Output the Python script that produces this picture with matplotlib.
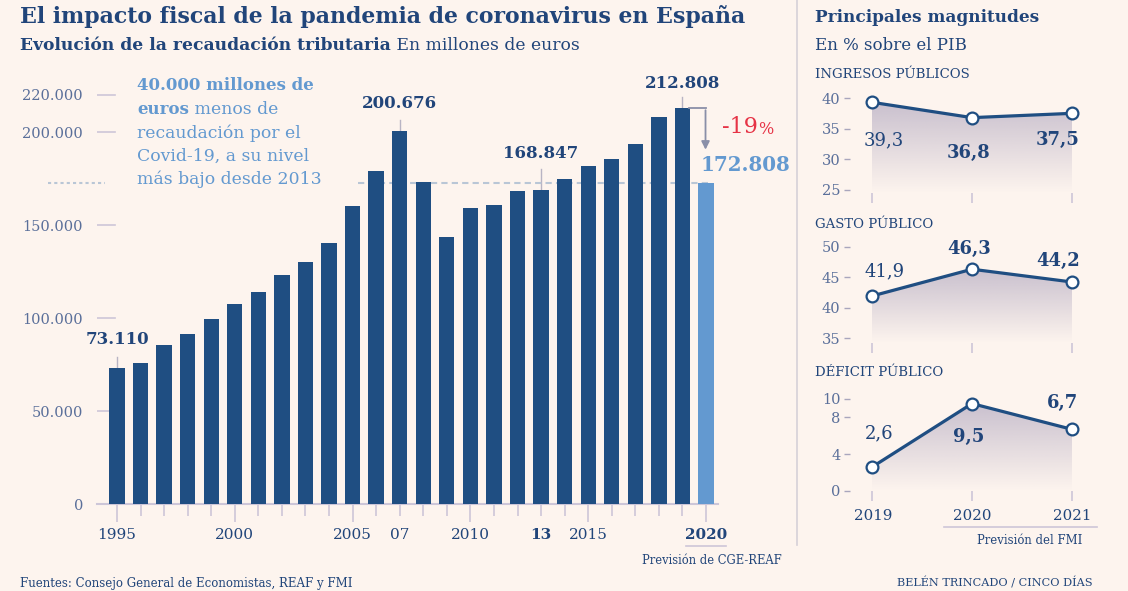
import numpy as np
import matplotlib
matplotlib.use('Agg')
import matplotlib.pyplot as plt
from matplotlib.transforms import blended_transform_factory
from matplotlib.patches import Polygon

# datos: recaudacion tributaria (millones de euros)
years = list(range(1995, 2021))
recaudacion = [73110, 75600, 85300, 91200, 99600, 107400, 114200, 123000, 129900, 140500,
               160200, 178900, 200676, 173100, 143500, 159000, 161000, 168100, 168847, 174700,
               181500, 185700, 193400, 208200, 212808, 172808]
y_ticks = [0, 50000, 100000, 150000, 200000, 220000]
y_labels = ['0', '50.000', '100.000', '150.000', '200.000', '220.000']

# principales magnitudes (% sobre el PIB)
anios_fmi = [2019, 2020, 2021]
ingresos = [39.3, 36.8, 37.5]
gasto = [41.9, 46.3, 44.2]
deficit = [2.6, 9.5, 6.7]
ingresos_lbl = ['39,3', '36,8', '37,5']
gasto_lbl = ['41,9', '46,3', '44,2']
deficit_lbl = ['2,6', '9,5', '6,7']

BG = '#fdf4ee'
NAVY = '#1f4e82'
TXT = '#21457a'
TICK = '#5a6f9a'
LIGHT = '#6399d0'
GRIDC = '#cdc6d8'
RED = '#e63346'
SERIF = 'DejaVu Serif'

W, H = 1128, 591
fig = plt.figure(figsize=(11.28, 5.91), dpi=100)
fig.patch.set_facecolor(BG)
plt.rcParams['font.family'] = SERIF


def box(x0, y0, x1, y1):
    return [x0 / W, 1 - y1 / H, (x1 - x0) / W, (y1 - y0) / H]


def fy(y):
    return 1 - y / H


def rich(x, y, parts, va='center'):
    # texto con trozos en negrita y normal en la misma linea
    renderer = fig.canvas.get_renderer()
    for s, weight, color, size in parts:
        t = fig.text(x / W, fy(y), s, fontsize=size, fontweight=weight, color=color,
                     va=va, ha='left', family=SERIF)
        bb = t.get_window_extent(renderer)
        x += bb.width
    return x


# titulos
fig.text(20 / W, fy(17), 'El impacto fiscal de la pandemia de coronavirus en España',
         fontsize=15.8, fontweight='bold', color=TXT, va='center')
rich(20, 46, [('Evolución de la recaudación tributaria', 'bold', TXT, 12.3),
              (' En millones de euros', 'normal', TXT, 12.3)])
fig.text(815 / W, fy(17), 'Principales magnitudes', fontsize=12.2, fontweight='bold',
         color=TXT, va='center')
fig.text(815 / W, fy(45), 'En % sobre el PIB', fontsize=12, color=TXT, va='center')

# separador vertical
fig.add_artist(plt.Line2D([797 / W, 797 / W], [fy(0), fy(545)], color='#d6d0d8', lw=1.2))

# ---------------- grafico de barras ----------------
ax = fig.add_axes(box(97, 60, 718, 504))
ax.set_facecolor('none')
ax.set_xlim(1994.151, 2020.51)
ax.set_ylim(0, 238710)
colors = [NAVY] * (len(years) - 1) + [LIGHT]
ax.bar(years, recaudacion, width=0.65, color=colors, zorder=3)

for s in ['top', 'right', 'left']:
    ax.spines[s].set_visible(False)
ax.spines['bottom'].set_color(GRIDC)
ax.spines['bottom'].set_linewidth(1.5)
ax.set_yticks(y_ticks)
ax.set_yticklabels(y_labels, fontsize=10.5, color=TICK)
ax.tick_params(axis='y', length=0, pad=10)
for v in y_ticks[1:]:
    ax.plot([1994.151, 1994.93], [v, v], color=GRIDC, lw=1.2, zorder=1)

ax.set_xticks([1995, 2000, 2005, 2010, 2015, 2020])
ax.set_xticks(years, minor=True)
ax.set_xticklabels([])
ax.tick_params(axis='x', which='major', length=13, width=1.2, color=GRIDC)
ax.tick_params(axis='x', which='minor', length=8.5, width=1.2, color=GRIDC)

trans = blended_transform_factory(ax.transData, fig.transFigure)
xlab = [(1995, '1995', 'normal'), (2000, '2000', 'normal'), (2005, '2005', 'normal'),
        (2007, '07', 'normal'), (2010, '2010', 'normal'), (2013, '13', 'bold'),
        (2015, '2015', 'normal'), (2020, '2020', 'bold')]
for xv, s, w in xlab:
    ax.text(xv, fy(535), s, transform=trans, ha='center', va='center', fontsize=11,
            fontweight=w, color=TXT)
ax.plot([2019.15, 2020.85], [fy(546), fy(546)], transform=trans, color=GRIDC, lw=1.2,
        clip_on=False)
ax.text(2020.25, fy(560), 'Previsión de CGE-REAF', transform=trans, ha='center', va='center',
        fontsize=8.3, color=TXT)

# linea de referencia 172.808
ref = recaudacion[-1]
ax.plot([1992.07, 1994.5], [ref, ref], color='#b9c6d6', lw=1.5, ls=(0, (1.5, 1.5)),
        zorder=1, clip_on=False)
ax.plot([2005.25, 2020.1], [ref, ref], color='#b9c6d6', lw=1.5, ls=(0, (3, 2)), zorder=2)

# etiquetas de valores
def valor(year, val, ytxt, ylead0, ylead1):
    ax.text(year, fy(ytxt), val, transform=trans, ha='center', va='center', fontsize=12,
            fontweight='bold', color=TXT)
    ax.plot([year, year], [fy(ylead0), fy(ylead1)], transform=trans, color='#b8b4c4',
            lw=1, zorder=1)

valor(1995, '73.110', 339, 357, 368)
valor(2007, '200.676', 104, 120, 131)
valor(2013, '168.847', 153, 169, 190)
valor(2019, '212.808', 83, 97, 108)

# flecha de caida
ax.plot([2019.3, 2019.98], [recaudacion[-2], recaudacion[-2]], color='#8a8fa8', lw=1.3, zorder=4)
ax.annotate('', xy=(2019.98, 189000), xytext=(2019.98, recaudacion[-2] + 400),
            arrowprops=dict(arrowstyle='-|>', color='#8a8fa8', lw=1.3, mutation_scale=12))
rx = rich(722, 127, [('-19', 'normal', RED, 16)])
fig.text(rx / W, fy(129), '%', fontsize=11.5, color=RED, va='center')
fig.text(745 / W, fy(165), '172.808', fontsize=14.3, fontweight='bold', color=LIGHT,
         va='center', ha='center')

# texto explicativo
ann = [
    [('40.000 millones de', 'bold', LIGHT, 12)],
    [('euros', 'bold', LIGHT, 12), (' menos de', 'normal', LIGHT, 12.4)],
    [('recaudación por el', 'normal', LIGHT, 12.4)],
    [('Covid-19, a su nivel', 'normal', LIGHT, 12.4)],
    [('más bajo desde 2013', 'normal', LIGHT, 12.4)],
]
for k, parts in enumerate(ann):
    rich(137, 86 + k * 23.4, parts)

# ---------------- paneles derechos ----------------
def panel(rect, ylim, yticks, vals, labels, lbl_pos, title, title_y):
    a = fig.add_axes(box(*rect))
    a.set_facecolor('none')
    for s in ['top', 'right', 'left', 'bottom']:
        a.spines[s].set_visible(False)
    a.set_yticks(yticks)
    a.set_yticklabels([str(t) for t in yticks], fontsize=10.5, color=TICK)
    a.tick_params(axis='y', length=4, width=1, color='#a9a6bd', pad=3)
    a.set_xticks(anios_fmi)
    a.set_xticklabels([])
    a.tick_params(axis='x', length=7, width=1.2, color=GRIDC)

    # relleno degradado bajo la linea
    grad = np.zeros((100, 2, 4))
    c = matplotlib.colors.to_rgb('#b8afc4')
    grad[:, :, 0], grad[:, :, 1], grad[:, :, 2] = c
    grad[:, :, 3] = np.linspace(0.0, 0.75, 100)[:, None]
    top = max(vals)
    im = a.imshow(grad, extent=[anios_fmi[0], anios_fmi[-1], ylim[0], top], origin='lower',
                  aspect='auto', zorder=1)
    poly = Polygon([(anios_fmi[0], ylim[0])] + list(zip(anios_fmi, vals)) +
                   [(anios_fmi[-1], ylim[0])], closed=True, transform=a.transData)
    im.set_clip_path(poly)
    a.set_xlim(2018.78, 2021.08)
    a.set_ylim(*ylim)

    a.plot(anios_fmi, vals, color=NAVY, lw=2.3, marker='o', markersize=8.5,
           markerfacecolor='white', markeredgecolor=NAVY, markeredgewidth=1.6, zorder=3)
    for k, (s, (px, py)) in enumerate(zip(labels, lbl_pos)):
        fig.text(px / W, fy(py), s, fontsize=13, fontweight='normal' if k == 0 else 'bold',
                 color=TXT, ha='center', va='center')
    fig.text(815 / W, fy(title_y), title, fontsize=9.5, color=TXT, va='center')
    return a


panel((850, 92, 1080, 193), (24.51, 40.98), [25, 30, 35, 40], ingresos, ingresos_lbl,
      [(884, 140), (969, 153), (1058, 140)], 'INGRESOS PÚBLICOS', 74)
panel((850, 240, 1080, 343), (34.18, 51.1), [35, 40, 45, 50], gasto, gasto_lbl,
      [(885, 271), (969, 249), (1058, 261)], 'GASTO PÚBLICO', 224)
panel((850, 392, 1080, 491), (0, 10.76), [0, 4, 8, 10], deficit, deficit_lbl,
      [(879, 433), (969, 437), (1063, 403)], 'DÉFICIT PÚBLICO', 373)
for yr, px in zip(anios_fmi, [873, 972, 1072]):
    fig.text(px / W, fy(516), str(yr), fontsize=10.8, color=TXT, ha='center', va='center')
fig.add_artist(plt.Line2D([944 / W, 1097 / W], [fy(527), fy(527)], color=GRIDC, lw=1.2))
fig.text(1030 / W, fy(541), 'Previsión del FMI', fontsize=8.4, color=TXT, ha='center',
         va='center')

# pie
fig.text(20 / W, fy(583), 'Fuentes: Consejo General de Economistas, REAF y FMI', fontsize=8.5,
         color=TXT, va='center')
fig.text(1093 / W, fy(583), 'BELÉN TRINCADO / CINCO DÍAS', fontsize=8.1, color=TXT,
         va='center', ha='right')

fig.savefig('out.png', dpi=100, facecolor=BG)
